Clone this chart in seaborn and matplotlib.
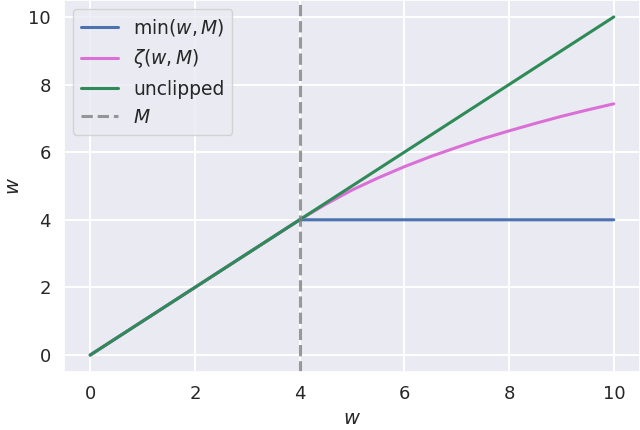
import matplotlib
matplotlib.use("Agg")
import matplotlib.pyplot as plt
import seaborn as sns

sns.set_theme(style="darkgrid")
plt.rcParams['font.family'] = ['DejaVu Sans']
plt.rcParams['mathtext.fontset'] = 'dejavusans'

M = 4
w = [0, 1, 2, 3, 4, 4.5, 5, 5.5, 6, 6.5, 7, 7.5, 8, 8.5, 9, 9.5, 10]
min_wM = [0, 1, 2, 3, 4, 4, 4, 4, 4, 4, 4, 4, 4, 4, 4, 4, 4]
zeta = [0, 1, 2, 3, 4, 4.46, 4.88, 5.24, 5.57, 5.87, 6.14, 6.40, 6.63, 6.85, 7.06, 7.25, 7.43]
unclipped = [0, 1, 2, 3, 4, 4.5, 5, 5.5, 6, 6.5, 7, 7.5, 8, 8.5, 9, 9.5, 10]

fig = plt.figure(figsize=(6.4, 4.3), dpi=100)
ax = fig.add_axes([0.1, 0.135, 0.9, 0.865])

sns.lineplot(x=w, y=min_wM, ax=ax, color="#4c72b0", lw=2.2, label=r"min($w, M$)")
sns.lineplot(x=w, y=zeta, ax=ax, color="#da70d6", lw=2.2, label=r"$\zeta$($w, M$)")
sns.lineplot(x=w, y=unclipped, ax=ax, color="#2e8b57", lw=2.2, label="unclipped")
ax.axvline(M, color="gray", ls="--", lw=2.2, alpha=0.8, label=r"$M$")

ax.set_xlim(-0.5, 10.5)
ax.set_ylim(-0.5, 10.5)
ax.set_xticks([0, 2, 4, 6, 8, 10])
ax.set_yticks([0, 2, 4, 6, 8, 10])
ax.tick_params(labelsize=13)
ax.grid(lw=1.4)
ax.set_xlabel(r"$w$", fontsize=14)
ax.set_ylabel(r"$w$", fontsize=14)
ax.legend(loc="upper left", fontsize=13.5)

fig.savefig("out.png", dpi=100)
